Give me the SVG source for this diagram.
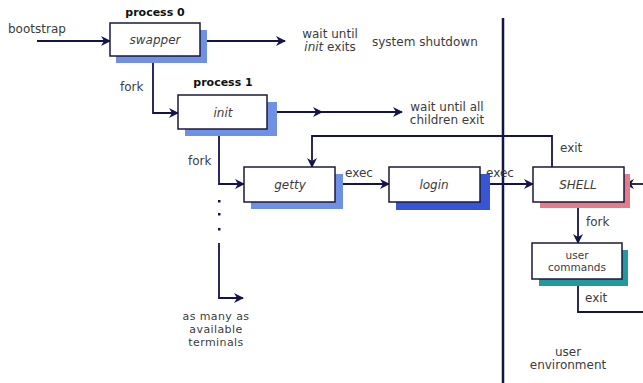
<svg xmlns="http://www.w3.org/2000/svg" width="643" height="383" viewBox="0 0 643 383">
<defs>
<marker id="arr" markerWidth="10" markerHeight="10" refX="9" refY="5" orient="auto" markerUnits="userSpaceOnUse">
<path d="M0,0 L10,5 L0,10 L3,5 z" fill="#14144a"/>
</marker>
<style>
.box{fill:#fff;stroke:#1a1a3a;stroke-width:1.5}
.ln{fill:none;stroke:#14144a;stroke-width:1.8}
.t{font-family:"DejaVu Sans",sans-serif;font-size:12px;fill:#3c3c3c}
.s{font-size:10.5px}
.n{font-size:11px;letter-spacing:0.4px}
.i{font-style:italic}
.b{font-weight:bold;font-size:11px;fill:#111}
.m{text-anchor:middle}
.sh1{fill:#7090e6}
.sh2{fill:#3656d6}
.sh3{fill:#e47c8c}
.sh4{fill:#23999f}
</style>
</defs>
<rect width="643" height="383" fill="#fff"/>

<g id="connectors">
<line class="ln" x1="37" y1="41" x2="110" y2="41" marker-end="url(#arr)"/>
<line class="ln" x1="207" y1="41" x2="285" y2="41" marker-end="url(#arr)"/>
<polyline class="ln" points="153,56 153,113 178,113" marker-end="url(#arr)"/>
<line class="ln" x1="277" y1="112" x2="322" y2="112" marker-end="url(#arr)"/>
<line class="ln" x1="320" y1="112" x2="402" y2="112" marker-end="url(#arr)"/>
<polyline class="ln" points="552,167 552,136 312,136 312,167" marker-end="url(#arr)"/>
<polyline class="ln" points="219,129 219,184 244,184" marker-end="url(#arr)"/>
<rect x="218" y="200" width="2.5" height="2.5" fill="#14144a"/>
<rect x="218" y="213" width="2.5" height="2.5" fill="#14144a"/>
<rect x="218" y="228" width="2.5" height="2.5" fill="#14144a"/>
<polyline class="ln" points="219,243 219,298 243,298" marker-end="url(#arr)"/>
<line class="ln" x1="343" y1="184" x2="389" y2="184" marker-end="url(#arr)"/>
<line class="ln" x1="490" y1="184" x2="533" y2="184" marker-end="url(#arr)"/>
<line class="ln" x1="643" y1="184" x2="625" y2="184" marker-end="url(#arr)"/>
<line class="ln" x1="578" y1="203" x2="578" y2="243" marker-end="url(#arr)"/>
<polyline class="ln" points="578,280 578,312 643,312"/>
<line x1="503" y1="18" x2="503" y2="383" stroke="#14144a" stroke-width="2.5"/>
</g>

<g id="labels">
<text class="t" x="8" y="33">bootstrap</text>
<text class="t m" x="330" y="38">wait until</text>
<text class="t m" x="330" y="51"><tspan class="i">init</tspan> exits</text>
<text class="t" x="372" y="46">system shutdown</text>
<text class="t" x="120" y="91">fork</text>
<text class="t m" x="447" y="111">wait until all</text>
<text class="t m" x="447" y="124">children exit</text>
<text class="t" x="188" y="165">fork</text>
<text class="t" x="345" y="177">exec</text>
<text class="t" x="486" y="177">exec</text>
<text class="t" x="560" y="152">exit</text>
<text class="t" x="586" y="226">fork</text>
<text class="t" x="585" y="302">exit</text>
<text class="t n m" x="216" y="320">as many as</text>
<text class="t n m" x="216" y="333">available</text>
<text class="t n m" x="216" y="346">terminals</text>
<text class="t m" x="568" y="356">user</text>
<text class="t m" x="568" y="369">environment</text>
</g>

<g id="swapper">
<text class="t b m" x="155" y="16">process 0</text>
<rect class="sh1" x="116" y="30" width="91" height="33"/>
<rect class="box" x="110" y="23" width="90" height="33"/>
<text class="t i m" x="155" y="44">swapper</text>
</g>

<g id="init">
<text class="t b m" x="223" y="86">process 1</text>
<rect class="sh1" x="185" y="102" width="92" height="34"/>
<rect class="box" x="178" y="95" width="89" height="34"/>
<text class="t i m" x="223" y="117">init</text>
</g>

<g id="getty">
<rect class="sh1" x="251" y="174" width="92" height="35"/>
<rect class="box" x="244" y="167" width="91" height="35"/>
<text class="t i m" x="290" y="189">getty</text>
</g>

<g id="login">
<rect class="sh2" x="396" y="174" width="94" height="36"/>
<rect class="box" x="389" y="167" width="91" height="35"/>
<text class="t i m" x="434" y="189">login</text>
</g>

<g id="shell">
<rect class="sh3" x="540" y="174" width="90" height="34"/>
<rect class="box" x="533" y="167" width="91" height="35"/>
<text class="t i m" x="578" y="189">SHELL</text>
</g>

<g id="user-commands">
<rect class="sh4" x="539" y="250" width="89" height="36"/>
<rect class="box" x="532" y="243" width="90" height="36"/>
<text class="t s m" x="577" y="259">user</text>
<text class="t s m" x="577" y="271">commands</text>
</g>
</svg>
